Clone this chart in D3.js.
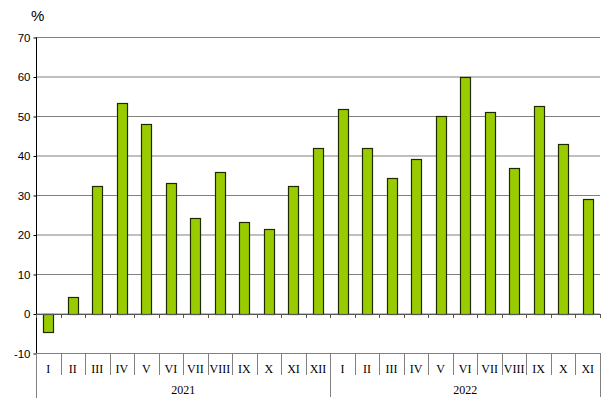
<!DOCTYPE html>
<html><head><meta charset="utf-8">
<script src="https://cdn.jsdelivr.net/npm/d3@7"></script>
<style>body{margin:0;background:#fff}</style>
</head><body>
<svg id="c" width="603" height="405"></svg>
<script>
const months = ["I","II","III","IV","V","VI","VII","VIII","IX","X","XI","XII","I","II","III","IV","V","VI","VII","VIII","IX","X","XI"];
const years = ["2021","2022"];
const yearCounts = [12, 11];
const values = [-4.6,4.1,32.3,53.4,47.9,33.1,24.3,35.9,23.1,21.3,32.2,41.8,51.7,41.8,34.2,39.1,50.1,60.0,51.1,36.8,52.5,43.0,29.1];
const yTicks = [-10,0,10,20,30,40,50,60,70];

const svg = d3.select("#c");
const L = 36, R = 600, T = 37, B = 353;
const y = d3.scaleLinear().domain([-10,70]).range([B,T]);
const x = d3.scaleBand().domain(d3.range(values.length)).range([L,R]).paddingInner(0).paddingOuter(0);
const bw = 10;

// gridlines
svg.append("g").selectAll("line").data(yTicks).join("line")
  .attr("x1",L).attr("x2",R).attr("y1",d=>y(d)+0.5).attr("y2",d=>y(d)+0.5)
  .attr("stroke","#808080").attr("stroke-width",1);

// y axis
const ya = d3.axisLeft(y).tickValues(yTicks).tickSize(3).tickPadding(3).tickFormat(d=>String(d));
const gy = svg.append("g").attr("transform",`translate(${L+0.5},0.5)`).call(ya);
gy.select(".domain").attr("d",`M0,${T}V${B+44}`).attr("stroke","#000");
gy.selectAll(".tick line").attr("stroke","#000");
gy.selectAll("text").attr("font-family","Arial, 'Liberation Sans', sans-serif").attr("font-size",11.5).attr("fill","#000");

// bars
svg.append("g").selectAll("rect").data(values).join("rect")
  .attr("x",(d,i)=>Math.round(x(i)+x.bandwidth()/2-bw/2)+0.5)
  .attr("width",bw)
  .attr("y",d=>Math.round(y(Math.max(0,d)))+0.5)
  .attr("height",d=>Math.abs(Math.round(y(d))-Math.round(y(0))))
  .attr("fill","#99cc00").attr("stroke","#1f2a00").attr("stroke-width",1.2);

// zero axis line
svg.append("line").attr("x1",L).attr("x2",R).attr("y1",Math.round(y(0))+0.5).attr("y2",Math.round(y(0))+0.5).attr("stroke","#555");
// small ticks on zero axis
svg.append("g").selectAll("line").data(d3.range(values.length+1)).join("line")
  .attr("x1",i=>Math.round(i<values.length?x(i):R)+0.5).attr("x2",i=>Math.round(i<values.length?x(i):R)+0.5)
  .attr("y1",Math.round(y(0))).attr("y2",Math.round(y(0))+4).attr("stroke","#555");

// category separators
svg.append("g").selectAll("line").data(d3.range(1,values.length)).join("line")
  .attr("x1",i=>Math.round(x(i))+0.5).attr("x2",i=>Math.round(x(i))+0.5)
  .attr("y1",B).attr("y2",B+22).attr("stroke","#808080");

// year separators
let cum = 0; const yb=[0];
yearCounts.forEach(c=>{cum+=c; yb.push(cum);});
svg.append("g").selectAll("line").data(yb).join("line")
  .attr("x1",i=>Math.round(i<values.length?x(i):R)+0.5).attr("x2",i=>Math.round(i<values.length?x(i):R)+0.5)
  .attr("y1",B).attr("y2",B+44).attr("stroke","#808080");

// month labels
svg.append("g").selectAll("text").data(months).join("text")
  .attr("x",(d,i)=>x(i)+x.bandwidth()/2).attr("y",B+20)
  .attr("text-anchor","middle").attr("font-family","'Liberation Serif','Times New Roman',serif").attr("font-size",12).text(d=>d);

// year labels
svg.append("g").selectAll("text").data(years).join("text")
  .attr("x",(d,i)=>{const a=x(yb[i]); const b=yb[i+1]<values.length?x(yb[i+1]):R; return (a+b)/2;})
  .attr("y",B+41).attr("text-anchor","middle")
  .attr("font-family","'Liberation Serif','Times New Roman',serif").attr("font-size",12).text(d=>d);

svg.append("text").attr("x",31).attr("y",21).attr("font-family","Arial, 'Liberation Sans', sans-serif").attr("font-size",15).text("%");
</script>
</body></html>
